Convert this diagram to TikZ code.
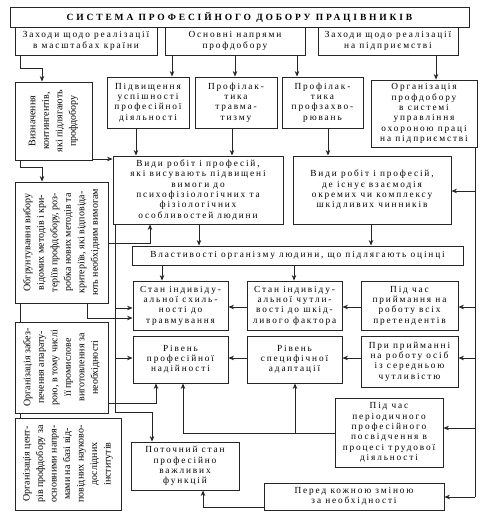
\documentclass[tikz,border=0pt]{standalone}
\usepackage{fontspec}
\setmainfont{Liberation Serif}
\newfontfamily\spaced[LetterSpace=20]{Liberation Serif}
\newfontfamily\titlefont[LetterSpace=30]{Liberation Serif}
\usetikzlibrary{arrows.meta}
\tikzset{
  bx/.style={draw=black!85, line width=0.85pt, fill=white, inner sep=0pt, align=center,
    font=\spaced\fontsize{9.3}{10.3}\selectfont},
  vbx/.style={draw=black!85, line width=0.85pt, fill=white, inner sep=0pt, align=center,
    font=\fontsize{10}{13.5}\selectfont},
  tbx/.style={draw=black!85, line width=0.85pt, fill=white, inner sep=0pt, align=center,
    font=\titlefont\bfseries\fontsize{9.5}{11}\selectfont},
  ar/.style={-{Stealth[length=5.5pt,width=4.5pt]}, line width=0.85pt, draw=black!85},
  ln/.style={line width=0.85pt, draw=black!85}
}
\newcommand\B[7][bx]{\node[#1, minimum width={#5-#3}, minimum height={#6-#4}] (#2) at ({(#3+#5)/2},{(#4+#6)/2}) {#7};}
\newcommand\V[6]{\node[vbx, rotate=90, minimum width={#5-#3}, minimum height={#4-#2}] (#1) at ({(#2+#4)/2},{(#3+#5)/2}) {#6};}
\begin{document}
\begin{tikzpicture}[x=1pt,y=-1pt]
\fill[white] (0,0) rectangle (480,518);
\useasboundingbox (0,0) rectangle (480,518);
% title and top row
\B[tbx]{title}{10}{7}{469}{27}{СИСТЕМА ПРОФЕСІЙНОГО ДОБОРУ ПРАЦІВНИКІВ}
\B{zk}{15}{27}{157}{55}{Заходи щодо реалізації\\в масштабах країни}
\B{on}{165}{27}{305}{55}{Основні напрями\\профдобору}
\B{zp}{318}{27}{458}{55}{Заходи щодо реалізації\\на підприємстві}
% third row
\B{pid}{107}{77}{189}{128}{Підвищення\\успішності\\професійної\\діяльності}
\B{ptr}{195}{77}{277}{128}{Профілак-\\тика\\травма-\\тизму}
\B{ppz}{282}{77}{363}{128}{Профілак-\\тика\\профзахво-\\рювань}
\B{org}{371}{80}{477}{147}{Організація\\профдобору\\в системі\\управління\\охороною праці\\на підприємстві}
\B{vr1}{113}{156}{283}{224}{Види робіт і професій,\\які висувають підвищені\\вимоги до\\психофізіологічних та\\фізіологічних\\особливостей людини}
\B{vr2}{293}{156}{451}{224}{Види робіт і професій,\\де існує взаємодія\\окремих чи комплексу\\шкідливих чинників}
\B{vl}{132}{246}{463}{265}{Властивості організму людини, що підлягають оцінці}
\B{ss}{133}{281}{228}{330}{Стан індивіду-\\альної схиль-\\ності до\\травмування}
\B{sc}{247}{281}{342}{330}{Стан індивіду-\\альної чутли-\\вості до шкід-\\ливого фактора}
\B{pch}{361}{281}{458}{330}{Під час\\приймання на\\роботу всіх\\претендентів}
\B{rn}{133}{336}{228}{383}{Рівень\\професійної\\надійності}
\B{ra}{247}{336}{342}{383}{Рівень\\специфічної\\адаптації}
\B{pp}{361}{336}{458}{387}{При прийманні\\на роботу осіб\\із середньою\\чутливістю}
\B{pp17}{335}{398}{443}{467}{Під час\\періодичного\\професійного\\посвідчення в\\процесі трудової\\діяльності}
\B{pk}{264}{483}{444}{510}{Перед кожною зміною\\за необхідності}
\B{ps}{131}{442}{239}{490}{Поточний стан\\професійно\\важливих\\функцій}
% left vertical boxes
\V{viz}{15}{82}{92}{160}{Визначення\\контингентів,\\які підлягають\\профдобору}
\V{obg}{15}{182}{108}{303}{Обгрунтування вибору\\відомих методів і кри-\\теріїв профдобору, роз-\\робка нових методів та\\критеріїв, які відповіда-\\ють необхідним вимогам}
\V{oz}{15}{322}{108}{413}{Організація забез-\\печення апарату-\\рою, в тому числі\\її промислове\\виготовлення за\\необхідності}
\V{oc}{15}{418}{121}{510}{Організація цент-\\рів профдобору за\\основними напря-\\мами на базі від-\\повідних науково-\\дослідних\\інститутів}
% connectors, left side
\draw[ar] (20,0 |- zk.south) |- (42,68) -- (42,0 |- viz.east);
\draw[ar] (20,0 |- viz.west) |- (42,167) -- (42,0 |- obg.east);
\draw[ln] (20,0 |- obg.west) -- (20,0 |- oz.east);
\draw[ln] (20,0 |- oz.west) -- (20,0 |- oc.east);
\draw[ar] (viz.south |- 0,159) -- (vr1.west |- 0,159);
% from top boxes
\draw[ar] (172,0 |- on.south) -- (172,0 |- pid.north);
\draw[ar] (235,0 |- on.south) -- (235,0 |- ptr.north);
\draw[ar] (297,0 |- on.south) -- (297,0 |- ppz.north);
\draw[ar] (436,0 |- zp.south) -- (436,0 |- org.north);
\draw[ar] (136,0 |- pid.south) -- (136,0 |- vr1.north);
\draw[ar] (232,0 |- ptr.south) -- (232,0 |- vr1.north);
\draw[ar] (328,0 |- ppz.south) -- (328,0 |- vr2.north);
\draw[ar] (199,0 |- vr1.south) -- (199,0 |- vl.north);
\draw[ar] (371,0 |- vr2.south) -- (371,0 |- vl.north);
\draw[ar] (162,0 |- vl.south) -- (162,0 |- ss.north);
\draw[ar] (294,0 |- vl.south) -- (294,0 |- sc.north);
\draw[ar] (sc.west |- 0,307) -- (ss.east |- 0,307);
\draw[ar] (ra.west |- 0,358) -- (rn.east |- 0,358);
\draw[ar] (pch.west |- 0,307) -- (sc.east |- 0,307);
\draw[ar] (pp.west |- 0,358) -- (ra.east |- 0,358);
% right trunk
\coordinate (rbot) at (475,497);
\draw[ln] (475,0 |- org.south) -- (rbot);
\draw[ar] (475,191) -- (vr2.east |- 0,191);
\draw[ar] (475,307) -- (pch.east |- 0,307);
\draw[ar] (475,358) -- (pp.east |- 0,358);
\draw[ar] (475,428) -- (pp17.east |- 0,428);
\draw[ar] (rbot) -- (pk.east |- rbot);
% left trunk and links
\draw[ar] (obg.south |- 0,243) -| (150,0 |- vr1.south);
\coordinate (lt) at (152,412);
\draw[ln] (115,0 |- vr1.south) |- (lt);
\draw[ar] (lt) -- (152,0 |- ps.north);
\draw[ar] (115,308) -- (ss.west |- 0,308);
\draw[ar] (115,358) -- (rn.west |- 0,358);
\draw[ar] (87,0 |- obg.west) |- (ss.west |- 0,318);
\draw[ar] (oz.south |- 0,403) -| (156,0 |- rn.south);
\draw[ar] (pp17.west |- 0,433) -| (183,0 |- rn.south);
\draw[ar] (295,433) -- (295,0 |- ra.south);
\draw[ar] (pk.west |- 0,507) -| (203,0 |- ps.south);
\end{tikzpicture}
\end{document}
